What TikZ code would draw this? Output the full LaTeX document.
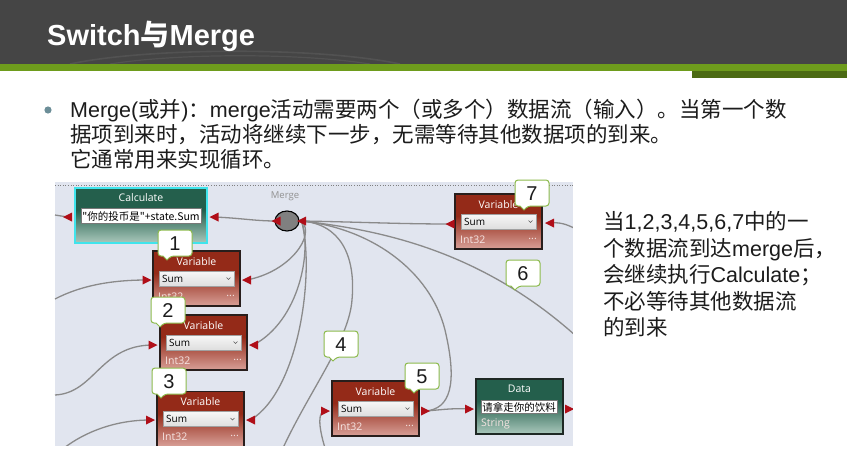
\documentclass[tikz,border=0pt]{standalone}
\usepackage{fontspec}
\setmainfont{Liberation Sans}
\newfontfamily\cjk{Noto Sans CJK SC}
\newfontfamily\uifont{Open Sans}
\usetikzlibrary{shapes.geometric}
\pgfdeclarelayer{back}
\pgfdeclarelayer{lines}
\pgfsetlayers{back,lines,main}

\definecolor{hdrgray}{RGB}{69,69,69}
\definecolor{hdrarc}{RGB}{82,82,82}
\definecolor{hdrgreen}{RGB}{110,156,28}
\definecolor{hdrdkgreen}{RGB}{76,107,20}
\definecolor{bulletc}{RGB}{108,142,152}
\definecolor{txt}{RGB}{28,28,28}
\definecolor{canvas}{RGB}{225,229,239}
\definecolor{wire}{RGB}{138,138,138}
\definecolor{pinred}{RGB}{176,14,24}
\definecolor{vartop}{RGB}{148,42,24}
\definecolor{varbot}{RGB}{216,160,152}
\definecolor{datatop}{RGB}{36,95,76}
\definecolor{databot}{RGB}{170,200,188}
\definecolor{calcedge}{RGB}{64,228,236}
\definecolor{callgreen}{RGB}{140,186,76}
\definecolor{fieldtop}{RGB}{247,247,247}
\definecolor{fieldbot}{RGB}{222,222,222}
\definecolor{footc}{RGB}{246,228,226}
\definecolor{mergegray}{RGB}{128,128,128}

\pgfdeclareverticalshading{varshade}{100bp}{color(0bp)=(varbot); color(25bp)=(varbot); color(55bp)=(vartop); color(100bp)=(vartop)}
\pgfdeclareverticalshading{datashade}{100bp}{color(0bp)=(databot); color(25bp)=(databot); color(55bp)=(datatop); color(100bp)=(datatop)}

\newcommand\zh[1]{{\cjk #1}}

\tikzset{
  wire/.style={draw=wire, line width=1.3pt},
  varbox/.style={rectangle, draw={rgb,255:red,40;green,30;blue,28}, line width=1.3pt,
    minimum width=87pt, minimum height=55pt, inner sep=0pt, shading=varshade},
  databox/.style={rectangle, draw={rgb,255:red,30;green,40;blue,36}, line width=1.3pt,
    minimum width=87pt, minimum height=55pt, inner sep=0pt, shading=datashade},
  boxtitle/.style={text=white, font=\uifont\fontsize{10.5}{12}\selectfont, inner sep=0pt},
  boxfoot/.style={text=footc, font=\uifont\fontsize{10.5}{12}\selectfont, inner sep=0pt},
  fieldtxt/.style={text=black, font=\uifont\fontsize{10}{12}\selectfont, inner sep=0pt},
  dropbox/.style={rectangle, draw={rgb,255:red,160;green,160;blue,160}, line width=0.5pt,
    top color=fieldtop, bottom color=fieldbot, minimum width=75pt, minimum height=15pt, inner sep=0pt},
  whitefield/.style={rectangle, fill=white, draw={rgb,255:red,120;green,120;blue,120}, line width=0.4pt,
    inner sep=0pt, text=black, font=\cjk\fontsize{10.5}{12}\selectfont},
  chev/.style={draw={rgb,255:red,90;green,90;blue,90}, line width=0.6pt},
  calloutline/.style={draw=callgreen, line width=1pt, fill=white},
  calloutnum/.style={text=txt, font=\fontsize{20}{22}\selectfont, inner sep=0pt},
  bodytext/.style={text=txt, font=\fontsize{21.5}{25}\selectfont, inner sep=0pt, anchor=base west},
}

% a VPL variable block: name, left, top
\newcommand\vplvar[3]{%
  \begin{scope}[shift={(#2,#3)}]
    \node[varbox] (#1) at (43.5,27.5) {};
    \node[boxtitle] (#1-t) at (43.5,10.5) {Variable};
    \node[dropbox] (#1-f) at (43.5,27.5) {};
    \node[fieldtxt, anchor=west] (#1-v) at (9,27.5) {Sum};
    \draw[chev] (73.5,26.5) -- (75.5,28.5) -- (77.5,26.5);
    \node[boxfoot, anchor=west] (#1-i) at (5,45.5) {Int32};
    \node[boxfoot, anchor=east] (#1-d) at (82,44.5) {...};
  \end{scope}}

% connection pins
\newcommand\vplpinR[2]{\coordinate (#1) at (#2);
  \fill[pinred] (#1) ++(-4.5,-4.5) -- ++(9,4.5) -- ++(-9,4.5) -- cycle;}
\newcommand\vplpinL[2]{\coordinate (#1) at (#2);
  \fill[pinred] (#1) ++(4.5,-4.5) -- ++(-9,4.5) -- ++(9,4.5) -- cycle;}

% numbered speech bubble: name, left, top, number
\newcommand\numbubble[4]{%
  \begin{scope}[shift={(#2,#3)}]
    \draw[calloutline] (0,0) [rounded corners=3pt] -- (34,0) -- (34,26) -- (13,26)
      [sharp corners] -- (9,30) -- (5,26) [rounded corners=3pt] -- (0,26) -- cycle;
    \node[calloutnum] (#1) at (17,13.5) {#4};
  \end{scope}}

\begin{document}
\begin{tikzpicture}[x=1pt, y=-1pt]
\useasboundingbox (0,0) rectangle (847,474);

% paper and diagram canvas
\begin{pgfonlayer}{back}
  \fill[white] (0,0) rectangle (847,474);
  \fill[canvas] (55,182) rectangle (573,446);
  \draw[gray, dotted, line width=0.6pt] (55,185.5) -- (573,185.5);
\end{pgfonlayer}

% title bar
\fill[hdrgray] (0,0) rectangle (847,64);
\draw[hdrarc, line width=1.6pt] (70,64) .. controls (150,47) and (320,47) .. (400,64);
\draw[hdrarc, line width=1.2pt] (110,64) .. controls (180,53) and (300,53) .. (370,64);
\fill[hdrgreen] (0,64) rectangle (847,71);
\fill[hdrdkgreen] (692,71) rectangle (847,78);
\node[text=white, font=\bfseries\fontsize{29}{32}\selectfont, inner sep=0pt, anchor=base west]
  (title) at (47,45) {Switch\zh{与}Merge};

% bullet paragraph
\fill[bulletc] (48,110) circle (3.6);
\node[bodytext] (b1) at (70,117) {Merge(\zh{或并})\zh{：}merge\zh{活动需要两个（或多个）数据流（输入）。当第一个数}};
\node[bodytext] (b2) at (70,142) {\zh{据项到来时，活动将继续下一步，无需等待其他数据项的到来。}};
\node[bodytext] (b3) at (70,167) {\zh{它通常用来实现循环。}};

% explanation on the right
\node[bodytext] (r1) at (603,229) {\zh{当}1,2,3,4,5,6,7\zh{中的一}};
\node[bodytext] (r2) at (603,256) {\zh{个数据流到达}merge\zh{后，}};
\node[bodytext] (r3) at (603,282) {\zh{会继续执行}Calculate\zh{；}};
\node[bodytext] (r4) at (603,309) {\zh{不必等待其他数据流}};
\node[bodytext] (r5) at (603,335) {\zh{的到来}};

% Calculate activity
\node[databox, draw=calcedge, line width=2pt, minimum width=132pt] (calc) at (141,215.5) {};
\node[boxtitle] (calc-t) at (141,198) {Calculate};
\node[whitefield, minimum width=120pt, minimum height=15pt] (calc-f) at (141,216) {"你的投币是"+state.Sum};

% Merge activity
\node[boxtitle, text={rgb,255:red,145;green,145;blue,145}, font=\uifont\fontsize{9.5}{11}\selectfont] (merge-l) at (285,196) {Merge};
\node[ellipse, draw=black, line width=1.1pt, fill=mergegray, minimum width=24pt, minimum height=20pt, inner sep=0pt] (merge) at (287,221) {};

% variables
\vplvar{v1}{153}{251}
\vplvar{v2}{160}{315}
\vplvar{v3}{157}{391.5}
\vplvar{v5}{332}{381}
\vplvar{v7}{455}{194}

% Data activity
\node[databox] (data) at (519.5,406.5) {};
\node[boxtitle] (data-t) at (519.5,389) {Data};
\node[whitefield, minimum width=76pt, minimum height=13pt] (data-f) at (519,407) {请拿走你的饮料};
\node[boxfoot, anchor=west] (data-i) at (481,424) {String};

% pins
\vplpinL{calc-l}{67.5,217}
\vplpinL{calc-r}{214,217}
\vplpinL{m-l}{276,221}
\vplpinL{m-r}{301.5,221}
\vplpinL{v7-l}{450,224}
\vplpinL{v7-r}{549.5,223}
\vplpinR{v1-l}{147,280}
\vplpinL{v1-r}{246.5,280}
\vplpinR{v2-l}{153,345}
\vplpinL{v2-r}{253.5,345}
\vplpinR{v3-l}{150.5,420}
\vplpinL{v3-r}{250.5,420}
\vplpinR{v5-l}{325.5,411}
\vplpinR{v5-r}{425.5,411}
\vplpinR{data-l}{469.5,409}
\vplpinR{data-r}{569.5,409}

% loose wire ends at the canvas border
\coordinate (f0) at (55,215);
\coordinate (f1) at (55,299);
\coordinate (f2) at (55,395);
\coordinate (f3) at (64,448);
\coordinate (f4) at (283,448);
\coordinate (f5) at (325,448);
\coordinate (f6) at (576,336);
\coordinate (f7) at (576,229);
\coordinate (f8) at (576,409);

% wires
\begin{pgfonlayer}{lines}
  \draw[wire] (calc-l) .. controls (62,216) .. (f0);
  \draw[wire] (calc-r) .. controls (240,218) and (255,221) .. (m-l);
  \draw[wire] (m-r) .. controls (360,222) and (400,224) .. (v7-l);
  \draw[wire] (m-r) .. controls (316,235) and (290,272) .. (v1-r);
  \draw[wire] (m-r) .. controls (312,250) and (300,320) .. (v2-r);
  \draw[wire] (m-r) .. controls (315,270) and (300,390) .. (v3-r);
  \draw[wire] (m-r) .. controls (340,224) and (356,255) .. (352,300)
                    .. controls (349,340) and (310,390) .. (f4);
  \draw[wire] (m-r) .. controls (370,228) and (430,270) .. (445,330)
                    .. controls (458,385) and (450,409) .. (v5-r);
  \draw[wire] (m-r) .. controls (380,230) and (480,250) .. (f6);
  \draw[wire] (v7-r) .. controls (560,222) and (566,224) .. (f7);
  \draw[wire] (v5-r) .. controls (440,410) and (450,408) .. (data-l);
  \draw[wire] (data-r) -- (f8);
  \draw[wire] (f1) .. controls (80,286) and (110,280) .. (v1-l);
  \draw[wire] (f2) .. controls (95,393) and (100,345) .. (v2-l);
  \draw[wire] (f3) .. controls (85,432) and (115,420) .. (v3-l);
  \draw[wire] (f5) .. controls (318,425) and (318,411) .. (v5-l);
\end{pgfonlayer}

% canvas edges
\fill[white] (0,446) rectangle (847,474);
\fill[white] (573,180) rectangle (600,446);

% numbered bubbles
\numbubble{n1}{158}{230}{1}
\numbubble{n2}{151}{297}{2}
\numbubble{n3}{152}{368}{3}
\numbubble{n4}{324}{331}{4}
\numbubble{n5}{405}{363}{5}
\numbubble{n6}{506}{260}{6}
\numbubble{n7}{515}{180}{7}
\end{tikzpicture}
\end{document}
